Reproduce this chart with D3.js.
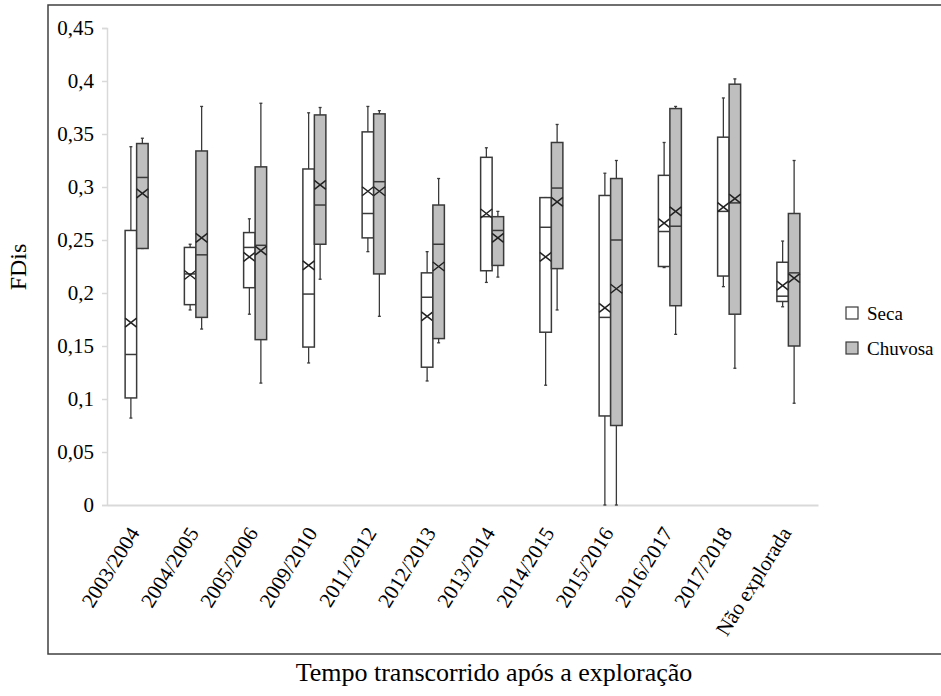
<!DOCTYPE html>
<html>
<head>
<meta charset="utf-8">
<script src="https://cdn.jsdelivr.net/npm/d3@7"></script>
<style>
    body { margin: 0; background: #fff; }
    svg text { font-family: "Liberation Serif", "DejaVu Serif", "Times New Roman", Times, serif; fill: #000; }
</style>
</head>
<body>
<svg id="chart" width="941" height="696"></svg>
<script>
// Categories and series
var categories = ["2003/2004", "2004/2005", "2005/2006", "2009/2010", "2011/2012", "2012/2013",
    "2013/2014", "2014/2015", "2015/2016", "2016/2017", "2017/2018", "Não explorada"];
var seriesNames = ["Seca", "Chuvosa"];
var yTicks = [0, 0.05, 0.1, 0.15, 0.2, 0.25, 0.3, 0.35, 0.4, 0.45];

// Seca (dry season) box statistics
var secaLow    = [0.082, 0.184, 0.180, 0.134, 0.239, 0.117, 0.210, 0.113, 0.000, 0.224, 0.206, 0.187];
var secaQ1     = [0.101, 0.189, 0.205, 0.149, 0.252, 0.130, 0.221, 0.163, 0.084, 0.225, 0.216, 0.192];
var secaMedian = [0.142, 0.218, 0.243, 0.199, 0.275, 0.196, 0.272, 0.262, 0.177, 0.258, 0.277, 0.197];
var secaQ3     = [0.259, 0.243, 0.257, 0.317, 0.352, 0.219, 0.328, 0.290, 0.292, 0.311, 0.347, 0.229];
var secaHigh   = [0.338, 0.246, 0.270, 0.370, 0.376, 0.239, 0.337, 0.290, 0.313, 0.342, 0.384, 0.249];
var secaMean   = [0.172, 0.217, 0.234, 0.226, 0.296, 0.178, 0.275, 0.234, 0.186, 0.266, 0.281, 0.207];

// Chuvosa (rainy season) box statistics
var chuvosaLow    = [0.242, 0.166, 0.115, 0.213, 0.178, 0.153, 0.215, 0.184, 0.000, 0.161, 0.129, 0.096];
var chuvosaQ1     = [0.242, 0.177, 0.156, 0.246, 0.218, 0.157, 0.226, 0.223, 0.075, 0.188, 0.180, 0.150];
var chuvosaMedian = [0.309, 0.236, 0.245, 0.283, 0.305, 0.246, 0.259, 0.299, 0.250, 0.263, 0.285, 0.219];
var chuvosaQ3     = [0.341, 0.334, 0.319, 0.368, 0.369, 0.283, 0.272, 0.342, 0.308, 0.374, 0.397, 0.275];
var chuvosaHigh   = [0.346, 0.376, 0.379, 0.375, 0.372, 0.308, 0.277, 0.359, 0.325, 0.376, 0.402, 0.325];
var chuvosaMean   = [0.294, 0.252, 0.240, 0.302, 0.296, 0.225, 0.252, 0.286, 0.204, 0.277, 0.289, 0.214];

// Build box records from the arrays
function buildBoxes(name, low, q1, med, q3, high, mean) {
    return categories.map(function (c, i) {
        return { category: c, series: name, low: low[i], q1: q1[i], median: med[i], q3: q3[i], high: high[i], mean: mean[i] };
    });
}
var boxes = buildBoxes("Seca", secaLow, secaQ1, secaMedian, secaQ3, secaHigh, secaMean)
    .concat(buildBoxes("Chuvosa", chuvosaLow, chuvosaQ1, chuvosaMedian, chuvosaQ3, chuvosaHigh, chuvosaMean));

var serif = "'Liberation Serif', 'DejaVu Serif', 'Times New Roman', Times, serif";
var fill = d3.scaleOrdinal().domain(seriesNames).range(["#ffffff", "#bfbfbf"]);
var stroke = "#3a3a3a";

var svg = d3.select("#chart");

// Outer frame
svg.append("rect")
    .attr("x", 48).attr("y", 5)
    .attr("width", 900).attr("height", 649)
    .attr("fill", "none")
    .attr("stroke", "#404040")
    .attr("stroke-width", 1.5);

// Plot area
var plot = { left: 107, right: 818, top: 28, bottom: 505 };

var x0 = d3.scaleBand().domain(categories).range([plot.left, plot.right]).padding(0);
var boxW = 11.5;
var x1 = d3.scaleBand().domain(seriesNames)
    .range([x0.bandwidth() / 2 - boxW, x0.bandwidth() / 2 + boxW]).padding(0);
var y = d3.scaleLinear().domain([0, 0.45]).range([plot.bottom, plot.top]);

// Y axis
var yAxis = d3.axisLeft(y)
    .tickValues(yTicks)
    .tickSize(5)
    .tickPadding(8)
    .tickFormat(function (d) { return d === 0 ? "0" : String(d).replace(".", ","); });

var gy = svg.append("g")
    .attr("class", "y axis")
    .attr("transform", "translate(" + plot.left + ",0)")
    .call(yAxis)
    .attr("font-family", serif)
    .attr("font-size", 21);
gy.select(".domain").attr("stroke", "#d9d9d9").attr("stroke-width", 1.5);
gy.selectAll(".tick line").attr("stroke", "#d9d9d9").attr("stroke-width", 1.5);

// X axis
var xAxis = d3.axisBottom(x0).tickSize(0).tickSizeOuter(0);
var gx = svg.append("g")
    .attr("class", "x axis")
    .attr("transform", "translate(0," + plot.bottom + ")")
    .call(xAxis)
    .attr("font-family", serif)
    .attr("font-size", 21);
gx.select(".domain").attr("stroke", "#d9d9d9").attr("stroke-width", 2);
gx.selectAll(".tick text")
    .attr("text-anchor", "end")
    .attr("x", -21.7)
    .attr("y", 10.6)
    .attr("dy", "0.35em")
    .attr("transform", "rotate(-58)");

// Boxes
var g = svg.selectAll(".box")
    .data(boxes)
    .enter()
    .append("g")
    .attr("class", "box")
    .attr("transform", function (d) {
        return "translate(" + (x0(d.category) + x1(d.series)) + ",0)";
    });

var bw = x1.bandwidth();

// Whisker line
g.append("line")
    .attr("x1", bw / 2).attr("x2", bw / 2)
    .attr("y1", function (d) { return y(d.low); })
    .attr("y2", function (d) { return y(d.high); })
    .attr("stroke", stroke)
    .attr("stroke-width", 1.3);

// Whisker caps
["low", "high"].forEach(function (k) {
    g.append("line")
        .attr("x1", bw / 2 - 1.5).attr("x2", bw / 2 + 1.5)
        .attr("y1", function (d) { return y(d[k]); })
        .attr("y2", function (d) { return y(d[k]); })
        .attr("stroke", stroke)
        .attr("stroke-width", 1.3);
});

// Box body
g.append("rect")
    .attr("x", 0)
    .attr("width", bw)
    .attr("y", function (d) { return y(d.q3); })
    .attr("height", function (d) { return y(d.q1) - y(d.q3); })
    .attr("fill", function (d) { return fill(d.series); })
    .attr("stroke", stroke)
    .attr("stroke-width", 1.5);

// Median
g.append("line")
    .attr("x1", 0).attr("x2", bw)
    .attr("y1", function (d) { return y(d.median); })
    .attr("y2", function (d) { return y(d.median); })
    .attr("stroke", stroke)
    .attr("stroke-width", 1.5);

// Mean marker (X)
g.append("path")
    .attr("d", function (d) {
        var cy = y(d.mean), h = 4.5;
        return "M0," + (cy - h) + "L" + bw + "," + (cy + h) + "M0," + (cy + h) + "L" + bw + "," + (cy - h);
    })
    .attr("fill", "none")
    .attr("stroke", "#222")
    .attr("stroke-width", 1.5);

// Legend
var legend = svg.selectAll(".legend")
    .data(seriesNames)
    .enter()
    .append("g")
    .attr("class", "legend")
    .attr("transform", function (d, i) { return "translate(846," + (307 + i * 35) + ")"; });

legend.append("rect")
    .attr("width", 12).attr("height", 12)
    .attr("fill", function (d) { return fill(d); })
    .attr("stroke", stroke)
    .attr("stroke-width", 1.2);

legend.append("text")
    .attr("x", 21)
    .attr("y", 6)
    .attr("dy", "0.35em")
    .attr("font-family", serif)
    .attr("font-size", 19)
    .text(function (d) { return d; });

// Axis titles
svg.append("text")
    .attr("transform", "translate(26,267) rotate(-90)")
    .attr("text-anchor", "middle")
    .attr("font-family", serif)
    .attr("font-size", 24)
    .text("FDis");

svg.append("text")
    .attr("x", 494)
    .attr("y", 681)
    .attr("text-anchor", "middle")
    .attr("font-family", serif)
    .attr("font-size", 26)
    .text("Tempo transcorrido após a exploração");
</script>
</body>
</html>
